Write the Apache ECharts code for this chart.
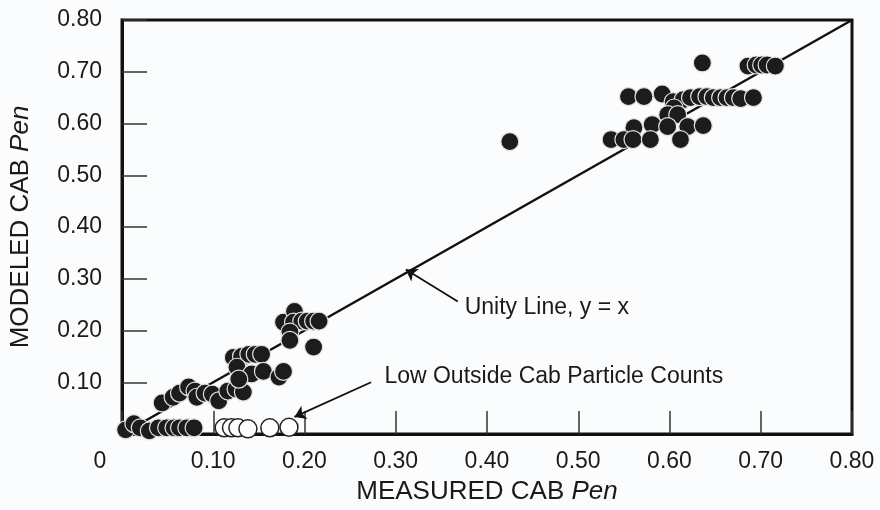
<!DOCTYPE html>
<html>
<head>
<meta charset="utf-8">
<script src="https://cdn.jsdelivr.net/npm/echarts@6/dist/echarts.min.js"></script>
<style>
html,body{margin:0;padding:0;background:#fbfcfd;}
#chart{width:880px;height:510px;}
</style>
</head>
<body>
<div id="chart"></div>
<script>
const tickLabels = ['0','0.10','0.20','0.30','0.40','0.50','0.60','0.70','0.80'];

const unityLine = [[0,0],[0.8,0.8]];

const filledBottomRow = [
  [0.004,0.008],[0.013,0.02],[0.02,0.012],[0.03,0.006],[0.04,0.012],[0.049,0.012],
  [0.057,0.012],[0.063,0.012],[0.071,0.012],[0.079,0.012]
];
const filledLowCluster = [
  [0.044,0.060],[0.056,0.071],[0.063,0.079],[0.073,0.091],[0.080,0.083],[0.082,0.071],
  [0.091,0.079],[0.099,0.077],[0.106,0.064],[0.116,0.083],[0.125,0.087],[0.133,0.081]
];
const filledMidCluster = [
  [0.122,0.148],[0.131,0.150],[0.139,0.154],[0.146,0.154],[0.153,0.154],
  [0.126,0.129],[0.142,0.116],[0.155,0.121],[0.128,0.106],[0.172,0.110],[0.177,0.121]
];
const filledUpperLowCluster = [
  [0.177,0.216],[0.189,0.237],[0.188,0.216],[0.197,0.218],[0.203,0.218],[0.210,0.218],
  [0.216,0.218],[0.184,0.197],[0.184,0.181],[0.210,0.168]
];
const filledOutlier = [[0.425,0.565]];
const filledHighCluster = [
  [0.636,0.717],[0.686,0.711],[0.695,0.713],[0.701,0.713],[0.707,0.713],[0.716,0.711],
  [0.555,0.652],[0.572,0.652],[0.592,0.657],
  [0.604,0.642],[0.615,0.646],[0.623,0.650],[0.633,0.652],[0.641,0.652],[0.648,0.650],
  [0.656,0.650],[0.663,0.650],[0.670,0.650],[0.678,0.648],[0.692,0.650],
  [0.605,0.630],[0.598,0.617],[0.609,0.617],
  [0.561,0.592],[0.581,0.598],[0.598,0.594],[0.620,0.594],[0.637,0.596],
  [0.536,0.569],[0.550,0.569],[0.560,0.569],[0.579,0.569],[0.612,0.569]
];
const openPoints = [
  [0.112,0.012],[0.120,0.012],[0.127,0.012],[0.138,0.010],[0.162,0.012],[0.183,0.013]
];

const filledPoints = [].concat(filledBottomRow, filledLowCluster, filledMidCluster,
  filledUpperLowCluster, filledOutlier, filledHighCluster);

const FONT = '"Liberation Sans", Arial, Helvetica, sans-serif';
const chart = echarts.init(document.getElementById('chart'));

function labelFor(v){
  const i = Math.round(v*10);
  return tickLabels[i];
}

chart.setOption({
  backgroundColor: '#fbfcfd',
  animation: false,
  grid: {left:120, right:28, top:20, bottom:75, show:true, borderColor:'#111', borderWidth:3, backgroundColor:'#fbfcfd'},
  xAxis: {
    type:'value', min:0, max:0.8, interval:0.1,
    name:'MEASURED CAB {i|Pen}', nameLocation:'middle', nameGap:45,
    nameTextStyle:{fontFamily:FONT, fontSize:26, color:'#1a1a1a', rich:{i:{fontFamily:FONT, fontSize:26, fontStyle:'italic', color:'#1a1a1a'}}},
    axisLine:{show:true, lineStyle:{color:'#111', width:3}},
    axisTick:{show:true, inside:true, length:23, lineStyle:{color:'#333', width:1.5}},
    splitLine:{show:false},
    axisLabel:{margin:16, fontFamily:FONT, fontSize:23, color:'#1a1a1a',
      formatter: v => (Math.round(v*10)===0 ? '{z|0}' : labelFor(v)),
      rich:{z:{fontFamily:FONT, fontSize:23, color:'#1a1a1a', padding:[0,44,0,0]}}}
  },
  yAxis: {
    type:'value', min:0, max:0.8, interval:0.1,
    name:'MODELED CAB {i|Pen}', nameLocation:'middle', nameGap:88,
    nameTextStyle:{fontFamily:FONT, fontSize:26, color:'#1a1a1a', rich:{i:{fontFamily:FONT, fontSize:26, fontStyle:'italic', color:'#1a1a1a'}}},
    axisLine:{show:true, lineStyle:{color:'#111', width:3}},
    axisTick:{show:true, inside:true, length:25, lineStyle:{color:'#333', width:1.5}},
    splitLine:{show:false},
    axisLabel:{margin:20, fontFamily:FONT, fontSize:23, color:'#1a1a1a',
      formatter: v => (Math.round(v*10)===0 ? '' : labelFor(v))}
  },
  series: [
    {
      type:'line', data:unityLine, symbol:'none', z:1,
      lineStyle:{color:'#111', width:2.5},
      markLine:{
        silent:true, symbol:['none','arrow'], symbolSize:11,
        lineStyle:{color:'#111', width:1.8, type:'solid'},
        label:{show:false},
        data:[
          [{coord:[0.368,0.256]},{coord:[0.311,0.318]}],
          [{coord:[0.273,0.100]},{coord:[0.189,0.033]}]
        ]
      },
      markPoint:{
        silent:true, symbol:'circle', symbolSize:1,
        itemStyle:{color:'rgba(0,0,0,0)'},
        label:{show:true, position:'right', distance:0, fontFamily:FONT, fontSize:23, color:'#1a1a1a',
          formatter: p => p.name},
        data:[
          {name:'Unity Line, y = x', coord:[0.375,0.245]},
          {name:'Low Outside Cab Particle Counts', coord:[0.287,0.110]}
        ]
      }
    },
    {
      type:'scatter', data:filledPoints, symbol:'circle', symbolSize:18, z:3,
      itemStyle:{color:'#1c1c1c', borderColor:'#e2e2e2', borderWidth:1.2, opacity:1}
    },
    {
      type:'scatter', data:openPoints, symbol:'circle', symbolSize:18, z:4,
      itemStyle:{color:'#ffffff', borderColor:'#222', borderWidth:1.5, opacity:1}
    }
  ]
});
</script>
</body>
</html>
